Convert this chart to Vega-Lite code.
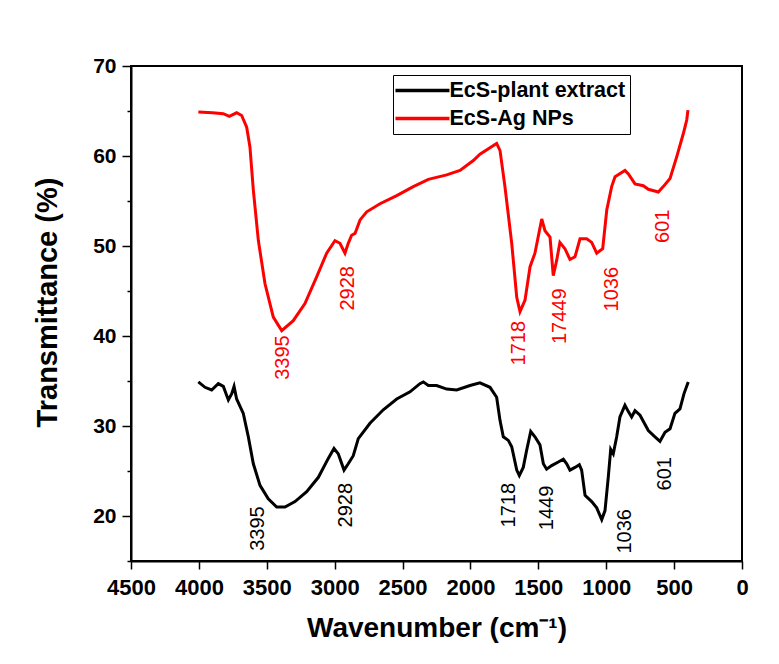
{
  "$schema": "https://vega.github.io/schema/vega-lite/v6.json",
  "width": 611,
  "height": 495,
  "autosize": "none",
  "padding": {"left": 131, "top": 66, "right": 37, "bottom": 103},
  "background": "white",
  "config": {"view": {"stroke": "#000", "strokeWidth": 2}, "font": "Liberation Sans"},
  "datasets": {
    "spectra": [
      {"s": "EcS-Ag NPs", "wn": 4004, "t": 64.9}, {"s": "EcS-Ag NPs", "wn": 3900, "t": 64.8}, {"s": "EcS-Ag NPs", "wn": 3820, "t": 64.7}, {"s": "EcS-Ag NPs", "wn": 3776, "t": 64.4}, {"s": "EcS-Ag NPs", "wn": 3722, "t": 64.8}, {"s": "EcS-Ag NPs", "wn": 3685, "t": 64.5}, {"s": "EcS-Ag NPs", "wn": 3648, "t": 63.2}, {"s": "EcS-Ag NPs", "wn": 3624, "t": 61.0}, {"s": "EcS-Ag NPs", "wn": 3599, "t": 56.2}, {"s": "EcS-Ag NPs", "wn": 3562, "t": 50.6}, {"s": "EcS-Ag NPs", "wn": 3513, "t": 45.8}, {"s": "EcS-Ag NPs", "wn": 3452, "t": 42.1}, {"s": "EcS-Ag NPs", "wn": 3390, "t": 40.6}, {"s": "EcS-Ag NPs", "wn": 3305, "t": 41.7}, {"s": "EcS-Ag NPs", "wn": 3219, "t": 43.6}, {"s": "EcS-Ag NPs", "wn": 3132, "t": 46.6}, {"s": "EcS-Ag NPs", "wn": 3059, "t": 49.2}, {"s": "EcS-Ag NPs", "wn": 2998, "t": 50.6}, {"s": "EcS-Ag NPs", "wn": 2961, "t": 50.3}, {"s": "EcS-Ag NPs", "wn": 2924, "t": 49.2}, {"s": "EcS-Ag NPs", "wn": 2900, "t": 50.3}, {"s": "EcS-Ag NPs", "wn": 2875, "t": 51.2}, {"s": "EcS-Ag NPs", "wn": 2850, "t": 51.4}, {"s": "EcS-Ag NPs", "wn": 2813, "t": 52.9}, {"s": "EcS-Ag NPs", "wn": 2764, "t": 53.8}, {"s": "EcS-Ag NPs", "wn": 2666, "t": 54.7}, {"s": "EcS-Ag NPs", "wn": 2543, "t": 55.6}, {"s": "EcS-Ag NPs", "wn": 2421, "t": 56.6}, {"s": "EcS-Ag NPs", "wn": 2310, "t": 57.4}, {"s": "EcS-Ag NPs", "wn": 2175, "t": 57.9}, {"s": "EcS-Ag NPs", "wn": 2077, "t": 58.4}, {"s": "EcS-Ag NPs", "wn": 1979, "t": 59.5}, {"s": "EcS-Ag NPs", "wn": 1930, "t": 60.2}, {"s": "EcS-Ag NPs", "wn": 1807, "t": 61.4}, {"s": "EcS-Ag NPs", "wn": 1782, "t": 60.6}, {"s": "EcS-Ag NPs", "wn": 1746, "t": 56.6}, {"s": "EcS-Ag NPs", "wn": 1696, "t": 50.3}, {"s": "EcS-Ag NPs", "wn": 1659, "t": 44.3}, {"s": "EcS-Ag NPs", "wn": 1635, "t": 42.7}, {"s": "EcS-Ag NPs", "wn": 1598, "t": 44.0}, {"s": "EcS-Ag NPs", "wn": 1561, "t": 47.7}, {"s": "EcS-Ag NPs", "wn": 1525, "t": 49.2}, {"s": "EcS-Ag NPs", "wn": 1475, "t": 53.0}, {"s": "EcS-Ag NPs", "wn": 1451, "t": 51.7}, {"s": "EcS-Ag NPs", "wn": 1414, "t": 51.0}, {"s": "EcS-Ag NPs", "wn": 1390, "t": 46.7}, {"s": "EcS-Ag NPs", "wn": 1365, "t": 48.4}, {"s": "EcS-Ag NPs", "wn": 1341, "t": 50.4}, {"s": "EcS-Ag NPs", "wn": 1304, "t": 49.7}, {"s": "EcS-Ag NPs", "wn": 1267, "t": 48.5}, {"s": "EcS-Ag NPs", "wn": 1230, "t": 48.8}, {"s": "EcS-Ag NPs", "wn": 1193, "t": 50.8}, {"s": "EcS-Ag NPs", "wn": 1144, "t": 50.8}, {"s": "EcS-Ag NPs", "wn": 1107, "t": 50.4}, {"s": "EcS-Ag NPs", "wn": 1070, "t": 49.2}, {"s": "EcS-Ag NPs", "wn": 1026, "t": 49.7}, {"s": "EcS-Ag NPs", "wn": 996, "t": 54.0}, {"s": "EcS-Ag NPs", "wn": 960, "t": 56.6}, {"s": "EcS-Ag NPs", "wn": 935, "t": 57.7}, {"s": "EcS-Ag NPs", "wn": 862, "t": 58.4}, {"s": "EcS-Ag NPs", "wn": 837, "t": 58.0}, {"s": "EcS-Ag NPs", "wn": 788, "t": 56.9}, {"s": "EcS-Ag NPs", "wn": 727, "t": 56.7}, {"s": "EcS-Ag NPs", "wn": 690, "t": 56.3}, {"s": "EcS-Ag NPs", "wn": 616, "t": 56.0}, {"s": "EcS-Ag NPs", "wn": 580, "t": 56.6}, {"s": "EcS-Ag NPs", "wn": 530, "t": 57.5}, {"s": "EcS-Ag NPs", "wn": 481, "t": 59.9}, {"s": "EcS-Ag NPs", "wn": 432, "t": 62.5}, {"s": "EcS-Ag NPs", "wn": 407, "t": 64.0}, {"s": "EcS-Ag NPs", "wn": 398, "t": 65.1},
      {"s": "EcS-plant extract", "wn": 4004, "t": 34.9}, {"s": "EcS-plant extract", "wn": 3955, "t": 34.3}, {"s": "EcS-plant extract", "wn": 3906, "t": 34.0}, {"s": "EcS-plant extract", "wn": 3857, "t": 34.7}, {"s": "EcS-plant extract", "wn": 3820, "t": 34.4}, {"s": "EcS-plant extract", "wn": 3783, "t": 32.9}, {"s": "EcS-plant extract", "wn": 3758, "t": 33.6}, {"s": "EcS-plant extract", "wn": 3741, "t": 34.4}, {"s": "EcS-plant extract", "wn": 3722, "t": 33.0}, {"s": "EcS-plant extract", "wn": 3673, "t": 31.4}, {"s": "EcS-plant extract", "wn": 3636, "t": 28.8}, {"s": "EcS-plant extract", "wn": 3599, "t": 25.8}, {"s": "EcS-plant extract", "wn": 3550, "t": 23.4}, {"s": "EcS-plant extract", "wn": 3489, "t": 21.9}, {"s": "EcS-plant extract", "wn": 3427, "t": 21.0}, {"s": "EcS-plant extract", "wn": 3366, "t": 21.0}, {"s": "EcS-plant extract", "wn": 3292, "t": 21.6}, {"s": "EcS-plant extract", "wn": 3206, "t": 22.7}, {"s": "EcS-plant extract", "wn": 3120, "t": 24.3}, {"s": "EcS-plant extract", "wn": 3047, "t": 26.4}, {"s": "EcS-plant extract", "wn": 3005, "t": 27.5}, {"s": "EcS-plant extract", "wn": 2973, "t": 26.9}, {"s": "EcS-plant extract", "wn": 2931, "t": 25.1}, {"s": "EcS-plant extract", "wn": 2900, "t": 25.8}, {"s": "EcS-plant extract", "wn": 2863, "t": 26.7}, {"s": "EcS-plant extract", "wn": 2826, "t": 28.6}, {"s": "EcS-plant extract", "wn": 2740, "t": 30.3}, {"s": "EcS-plant extract", "wn": 2642, "t": 31.8}, {"s": "EcS-plant extract", "wn": 2543, "t": 33.0}, {"s": "EcS-plant extract", "wn": 2445, "t": 33.8}, {"s": "EcS-plant extract", "wn": 2372, "t": 34.7}, {"s": "EcS-plant extract", "wn": 2347, "t": 34.9}, {"s": "EcS-plant extract", "wn": 2310, "t": 34.5}, {"s": "EcS-plant extract", "wn": 2249, "t": 34.5}, {"s": "EcS-plant extract", "wn": 2175, "t": 34.1}, {"s": "EcS-plant extract", "wn": 2101, "t": 34.0}, {"s": "EcS-plant extract", "wn": 2003, "t": 34.5}, {"s": "EcS-plant extract", "wn": 1930, "t": 34.8}, {"s": "EcS-plant extract", "wn": 1856, "t": 34.3}, {"s": "EcS-plant extract", "wn": 1807, "t": 33.2}, {"s": "EcS-plant extract", "wn": 1782, "t": 30.6}, {"s": "EcS-plant extract", "wn": 1758, "t": 28.8}, {"s": "EcS-plant extract", "wn": 1721, "t": 28.4}, {"s": "EcS-plant extract", "wn": 1696, "t": 27.7}, {"s": "EcS-plant extract", "wn": 1659, "t": 25.1}, {"s": "EcS-plant extract", "wn": 1640, "t": 24.5}, {"s": "EcS-plant extract", "wn": 1611, "t": 25.4}, {"s": "EcS-plant extract", "wn": 1586, "t": 27.3}, {"s": "EcS-plant extract", "wn": 1556, "t": 29.4}, {"s": "EcS-plant extract", "wn": 1525, "t": 28.8}, {"s": "EcS-plant extract", "wn": 1488, "t": 27.9}, {"s": "EcS-plant extract", "wn": 1463, "t": 25.8}, {"s": "EcS-plant extract", "wn": 1439, "t": 25.2}, {"s": "EcS-plant extract", "wn": 1402, "t": 25.6}, {"s": "EcS-plant extract", "wn": 1353, "t": 26.0}, {"s": "EcS-plant extract", "wn": 1316, "t": 26.3}, {"s": "EcS-plant extract", "wn": 1291, "t": 25.8}, {"s": "EcS-plant extract", "wn": 1267, "t": 25.1}, {"s": "EcS-plant extract", "wn": 1230, "t": 25.4}, {"s": "EcS-plant extract", "wn": 1198, "t": 25.7}, {"s": "EcS-plant extract", "wn": 1181, "t": 25.1}, {"s": "EcS-plant extract", "wn": 1156, "t": 22.3}, {"s": "EcS-plant extract", "wn": 1107, "t": 21.6}, {"s": "EcS-plant extract", "wn": 1070, "t": 20.9}, {"s": "EcS-plant extract", "wn": 1033, "t": 19.6}, {"s": "EcS-plant extract", "wn": 1009, "t": 20.6}, {"s": "EcS-plant extract", "wn": 985, "t": 24.3}, {"s": "EcS-plant extract", "wn": 967, "t": 27.4}, {"s": "EcS-plant extract", "wn": 948, "t": 26.9}, {"s": "EcS-plant extract", "wn": 923, "t": 28.8}, {"s": "EcS-plant extract", "wn": 899, "t": 31.0}, {"s": "EcS-plant extract", "wn": 862, "t": 32.3}, {"s": "EcS-plant extract", "wn": 837, "t": 31.6}, {"s": "EcS-plant extract", "wn": 813, "t": 31.0}, {"s": "EcS-plant extract", "wn": 788, "t": 31.7}, {"s": "EcS-plant extract", "wn": 751, "t": 31.2}, {"s": "EcS-plant extract", "wn": 690, "t": 29.5}, {"s": "EcS-plant extract", "wn": 641, "t": 28.8}, {"s": "EcS-plant extract", "wn": 604, "t": 28.3}, {"s": "EcS-plant extract", "wn": 567, "t": 29.3}, {"s": "EcS-plant extract", "wn": 530, "t": 29.7}, {"s": "EcS-plant extract", "wn": 494, "t": 31.4}, {"s": "EcS-plant extract", "wn": 457, "t": 31.9}, {"s": "EcS-plant extract", "wn": 427, "t": 33.6}, {"s": "EcS-plant extract", "wn": 396, "t": 34.9}
    ],
    "peaks": [
      {"s": "EcS-plant extract", "wn": 3565, "t": 18.6, "label": "3395"},
      {"s": "EcS-plant extract", "wn": 2917, "t": 21.2, "label": "2928"},
      {"s": "EcS-plant extract", "wn": 1716, "t": 21.2, "label": "1718"},
      {"s": "EcS-plant extract", "wn": 1436, "t": 20.9, "label": "1449"},
      {"s": "EcS-plant extract", "wn": 862, "t": 18.3, "label": "1036"},
      {"s": "EcS-plant extract", "wn": 567, "t": 24.7, "label": "601"},
      {"s": "EcS-Ag NPs", "wn": 3381, "t": 37.6, "label": "3395"},
      {"s": "EcS-Ag NPs", "wn": 2902, "t": 45.3, "label": "2928"},
      {"s": "EcS-Ag NPs", "wn": 1642, "t": 39.2, "label": "1718"},
      {"s": "EcS-Ag NPs", "wn": 1340, "t": 42.2, "label": "17449"},
      {"s": "EcS-Ag NPs", "wn": 957, "t": 45.2, "label": "1036"},
      {"s": "EcS-Ag NPs", "wn": 582, "t": 52.2, "label": "601"}
    ]
  },
  "layer": [
    {
      "data": {"name": "spectra"},
      "mark": {"type": "line", "strokeWidth": 3, "clip": true},
      "encoding": {
        "x": {
          "field": "wn", "type": "quantitative",
          "scale": {"domain": [0, 4500], "reverse": true, "nice": false, "zero": false},
          "axis": {
            "values": [0, 250, 500, 750, 1000, 1250, 1500, 1750, 2000, 2250, 2500, 2750, 3000, 3250, 3500, 3750, 4000, 4250, 4500],
            "format": "d",
            "labelExpr": "datum.value % 500 == 0 ? datum.label : ''",
            "tickSize": {"condition": {"test": "datum.value % 500 == 0", "value": 8}, "value": 4},
            "tickWidth": 1.5, "tickColor": "#000",
            "domainColor": "#000", "domainWidth": 2,
            "grid": false,
            "labelFont": "Liberation Sans", "labelFontSize": 22, "labelFontWeight": "bold", "labelColor": "#000",
            "labelPadding": 8, "labelFlush": false, "labelOverlap": false,
            "title": "Wavenumber (cm⁻¹)",
            "titleFont": "Liberation Sans", "titleFontSize": 28, "titleFontWeight": "bold", "titleColor": "#000",
            "titleBaseline": "middle", "titleY": 67
          }
        },
        "y": {
          "field": "t", "type": "quantitative",
          "scale": {"domain": [15, 70], "nice": false, "zero": false},
          "axis": {
            "values": [15, 20, 25, 30, 35, 40, 45, 50, 55, 60, 65, 70],
            "labelExpr": "datum.value % 10 == 0 ? datum.label : ''",
            "tickSize": {"condition": {"test": "datum.value % 10 == 0", "value": 9}, "value": 4},
            "tickWidth": 1.5, "tickColor": "#000",
            "domainColor": "#000", "domainWidth": 2,
            "grid": false,
            "labelFont": "Liberation Sans", "labelFontSize": 21, "labelFontWeight": "bold", "labelColor": "#000",
            "labelPadding": 6, "labelOverlap": false, "labelFlush": false,
            "title": "Transmittance (%)",
            "titleFont": "Liberation Sans", "titleFontSize": 29, "titleFontWeight": "bold", "titleColor": "#000",
            "titleBaseline": "middle", "titleAngle": 270, "titleX": -84, "titleY": 236
          }
        },
        "color": {
          "field": "s", "type": "nominal",
          "scale": {"domain": ["EcS-plant extract", "EcS-Ag NPs"], "range": ["#000000", "#ff0000"]},
          "legend": {
            "orient": "none", "legendX": 262, "legendY": 9, "title": null,
            "symbolType": "M-1.45,0H4.55", "symbolSize": 324, "symbolStrokeWidth": 3.5,
            "labelFont": "Liberation Sans", "labelFontSize": 21.5, "labelFontWeight": "bold", "labelColor": "#000",
            "labelLimit": 400, "labelOffset": 30, "strokeColor": "#000", "fillColor": "#fff", "padding": 4.5, "rowPadding": 6
          }
        }
      }
    },
    {
      "data": {"name": "peaks"},
      "transform": [{"filter": "datum.s == 'EcS-Ag NPs'"}],
      "mark": {"type": "text", "angle": 270, "align": "center", "baseline": "middle", "font": "Liberation Sans", "fontSize": 20, "color": "#ff0000"},
      "encoding": {
        "x": {"field": "wn", "type": "quantitative"},
        "y": {"field": "t", "type": "quantitative"},
        "text": {"field": "label", "type": "nominal"}
      }
    },
    {
      "data": {"name": "peaks"},
      "transform": [{"filter": "datum.s == 'EcS-plant extract'"}],
      "mark": {"type": "text", "angle": 270, "align": "center", "baseline": "middle", "font": "Liberation Sans", "fontSize": 20, "color": "#000000"},
      "encoding": {
        "x": {"field": "wn", "type": "quantitative"},
        "y": {"field": "t", "type": "quantitative"},
        "text": {"field": "label", "type": "nominal"}
      }
    }
  ]
}
